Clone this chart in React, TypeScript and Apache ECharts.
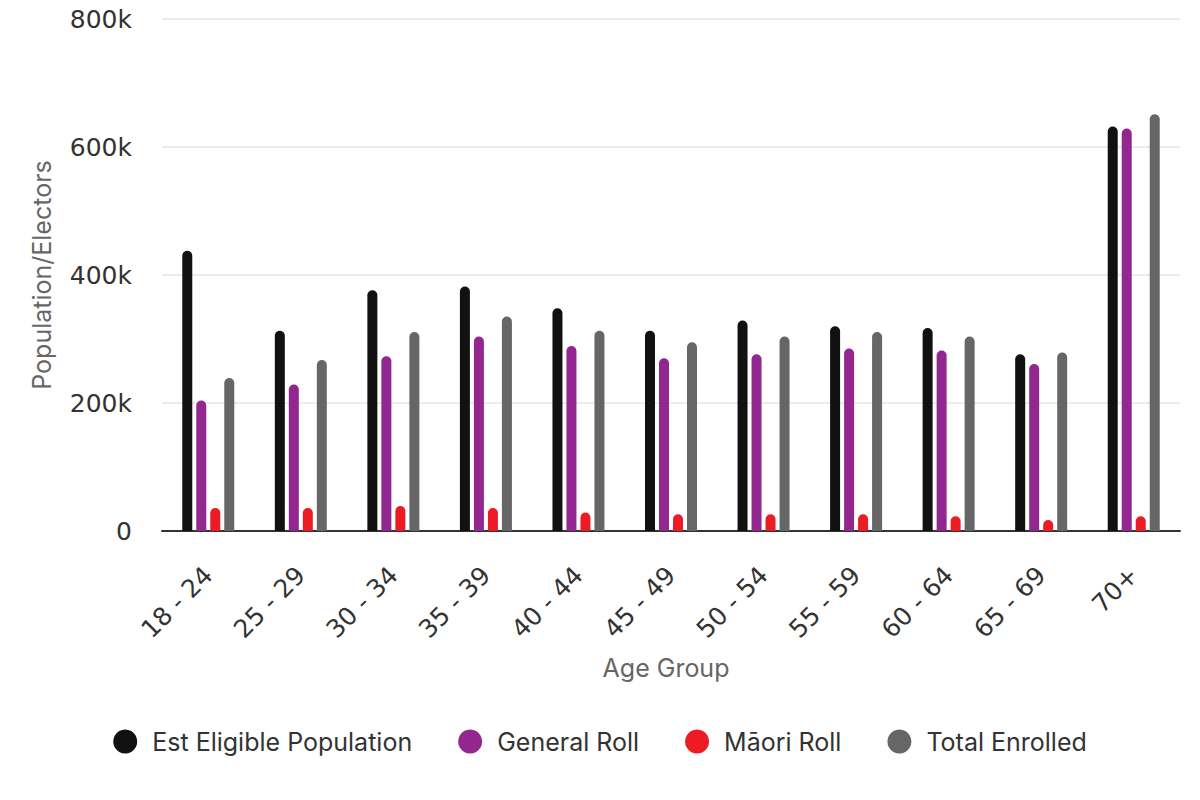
import React, { useEffect, useRef } from "react";
import * as echarts from "echarts";

const categories = ["18 - 24", "25 - 29", "30 - 34", "35 - 39", "40 - 44", "45 - 49", "50 - 54", "55 - 59", "60 - 64", "65 - 69", "70+"];
const estEligible = [438000, 313000, 376000, 382000, 348000, 313000, 329000, 320000, 317000, 276000, 632000];
const generalRoll = [204000, 229000, 273000, 304000, 289000, 270000, 276000, 285000, 282000, 261000, 629000];
const maoriRoll = [36000, 36000, 39000, 36000, 29000, 26000, 26000, 26000, 23000, 17000, 23000];
const totalEnrolled = [239000, 267000, 311000, 335000, 313000, 295000, 304000, 311000, 304000, 279000, 651000];
const seriesNames = ["Est Eligible Population", "General Roll", "Māori Roll", "Total Enrolled"];
const colors = ["#111111", "#92278f", "#ed1c24", "#666666"];

const FONT = "Inter, 'Liberation Sans', Arial, sans-serif";
const NUM_FONT = "'DejaVu Sans', Inter, sans-serif";

export default function App() {
  const ref = useRef<HTMLDivElement>(null);
  useEffect(() => {
    if (!ref.current) return;
    const chart = echarts.init(ref.current, undefined, { renderer: "svg" });
    const data = [estEligible, generalRoll, maoriRoll, totalEnrolled];
    chart.setOption({
      animation: false,
      textStyle: { fontFamily: FONT },
      grid: { left: 162, right: 20, top: 19, bottom: 269, containLabel: false },
      legend: {
        bottom: 41,
        left: "center",
        icon: "circle",
        itemWidth: 24,
        itemHeight: 24,
        itemGap: 46,
        textStyle: { fontFamily: FONT, fontSize: 25, color: "#333333", padding: [0, 0, 0, 10] },
        data: seriesNames,
      },
      xAxis: {
        type: "category",
        data: categories,
        name: "Age Group",
        nameLocation: "middle",
        nameGap: 124,
        nameTextStyle: { fontFamily: FONT, fontSize: 25, color: "#666666", padding: [0, 10, 0, 0] },
        axisLine: { lineStyle: { color: "#333333", width: 2 } },
        axisTick: { show: false },
        axisLabel: { rotate: 45, fontFamily: NUM_FONT, fontSize: 25, color: "#333333", margin: 40, interval: 0 },
      },
      yAxis: {
        type: "value",
        min: 0,
        max: 800000,
        interval: 200000,
        name: "Population/Electors",
        nameLocation: "middle",
        nameGap: 108,
        nameTextStyle: { fontFamily: FONT, fontSize: 25, color: "#666666" },
        axisLine: { show: false },
        axisTick: { show: false },
        splitLine: { lineStyle: { color: "#e6e6e6", width: 1.5 } },
        axisLabel: {
          fontFamily: NUM_FONT,
          fontSize: 25,
          color: "#333333",
          margin: 30,
          formatter: (v: number) => (v === 0 ? "0" : v / 1000 + "k"),
        },
      },
      series: seriesNames.map((name, i) => ({
        name,
        type: "bar",
        data: data[i],
        barWidth: 10,
        barGap: "40%",
        itemStyle: { color: colors[i], borderRadius: [5, 5, 0, 0] },
      })),
    });
    return () => chart.dispose();
  }, []);
  return <div ref={ref} style={{ width: 1200, height: 800, margin: -8 }} />;
}
